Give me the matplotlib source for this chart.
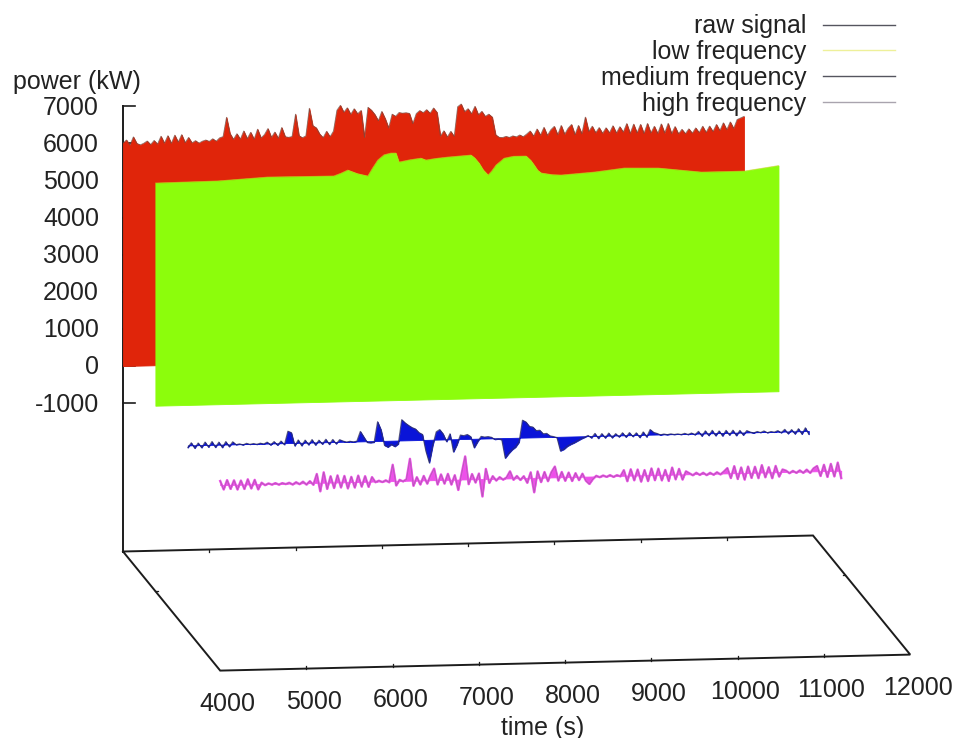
import matplotlib
matplotlib.use('Agg')
import matplotlib.pyplot as plt
import numpy as np

plt.rcParams['font.family'] = ['Liberation Sans', 'DejaVu Sans']

# sampled every 40 s from t = 4000 s
SAMPLE_STEP = 40
raw_signal = [
    6010, 6090, 5950, 6170, 5990, 5950, 5990, 6050, 5950, 6060, 5960, 6170, 5980, 6180, 5970, 6190,
    6000, 6200, 5980, 6120, 5970, 6030, 5960, 6010, 6040, 6000, 6070, 6000, 6090, 6120, 6640, 6200,
    6040, 6190, 6040, 6260, 6050, 6220, 6030, 6300, 6060, 6150, 6310, 6070, 6210, 6040, 6330, 6080,
    6060, 6080, 6680, 6100, 6040, 6090, 6830, 6360, 6300, 6130, 6030, 6200, 6050, 6200, 6760, 6890,
    6700, 6820, 6640, 6790, 6650, 6740, 6010, 6820, 6740, 6620, 6450, 6700, 6500, 6250, 6620, 6560,
    6660, 6640, 6650, 6630, 6350, 6620, 6700, 6640, 6720, 6620, 6760, 6640, 6000, 6140, 5970, 6120,
    5980, 6780, 6850, 6640, 6720, 6580, 6780, 6550, 6640, 6500, 6560, 6480, 6000, 5930, 5920, 5950,
    5920, 5960, 5930, 5980, 5930, 6000, 6080, 5940, 6130, 5960, 6170, 5950, 6100, 6190, 5960, 6210,
    5970, 6130, 6230, 5950, 6200, 5970, 6420, 6030, 6170, 5990, 6130, 5970, 6120, 5980, 6170, 5970,
    6140, 5990, 6220, 5950, 6200, 5960, 6190, 5940, 6210, 5950, 6130, 5930, 6190, 5940, 6200, 5920,
    6110, 5910, 6030, 5910, 6040, 5920, 6060, 5930, 6100, 5930, 6100, 5950, 6140, 5970, 6180, 5990,
    6200, 6020, 6260, 6300, 6340,
]
medium_frequency = [
    -60, 70, -80, 60, -70, 80, -60, 90, -70, 70, -80, 80, -60, 70, -10, 10,
    -20, 20, -10, 10, -15, 15, -10, 40, -40, 50, -50, 60, -40, 320, 280, -80,
    80, -80, 70, -60, 80, -70, 60, -50, 80, -60, 70, -50, 60, 20, -10, 10,
    -10, 10, 270, 120, -30, -40, -30, 520, 300, -120, -170, -100, -160, -90, 560, 470,
    400, 340, 300, 200, 150, -300, -620, -150, 210, 270, 150, -60, 150, -340, -150, 110,
    90, 120, 60, -240, -80, 60, 40, 50, 30, -30, -20, -40, -540, -420, -320, -250,
    -120, 470, 420, 300, 280, 180, 190, 90, 100, 30, 10, -20, -380, -340, -260, -210,
    -170, -120, -70, -30, 20, -50, 70, -70, 60, -60, 70, -60, 50, -40, 70, -50,
    70, -40, 60, -70, 80, -60, 140, 60, 30, -10, 10, -10, 10, -10, 5, -15,
    15, -20, 20, -30, 60, -70, 70, -60, 80, -70, 60, -80, 70, -60, 70, -80,
    60, -70, 50, 10, -20, 20, -10, 30, -20, 10, -10, 30, -30, 60, -60, 50,
    -70, 70, -80, 90, -90,
]
high_frequency = [
    110, -120, 130, -110, 120, -130, 110, -120, 140, -110, 120, -140, 40, -30, 15, -20,
    20, -25, 15, -15, 20, -30, 30, -25, 40, -40, 50, -50, 240, -230, 280, -170,
    170, -150, 190, -140, 170, -170, 140, -150, 170, -130, 150, -140, 120, -20, 20, -20,
    25, -30, 440, -120, 30, -15, 40, 590, -140, 90, -110, 120, -90, 130, 310, -120,
    150, -100, 160, -130, 120, -280, 170, 620, -130, 140, -90, 150, -470, 270, -110, 70,
    -50, 40, -30, 25, 190, -40, 60, -50, 50, -130, 150, -390, 170, -120, 150, -100,
    140, 290, -90, 140, -100, 120, -110, 100, -90, 80, -110, -200, -70, 15, -25, 20,
    -20, 25, -25, 20, -15, 150, -150, 170, -130, 160, -170, 140, -160, 180, -140, 170,
    -150, 130, -170, 190, -130, 150, -140, 80, 25, -30, 35, -25, 30, -35, 25, -30,
    35, -25, 50, 140, -130, 190, -160, 150, -180, 170, -140, 160, -150, 200, -130, 140,
    -160, 170, -120, 70, 35, -35, 25, -30, 35, -35, 50, -40, 80, 140, -130, 170,
    -160, 190, -150, 220, -200,
]
low_time = [4000, 4720, 5301, 6067, 6150, 6230, 6340, 6462, 6520, 6578, 6650, 6729, 6787, 6822, 6950,
            7078, 7136, 7250, 7391, 7658, 7700, 7750, 7800, 7856, 7900, 7949, 8042, 8150, 8297, 8350,
            8390, 8430, 8472, 8600, 8704, 9087, 9436, 9830, 10330, 10829, 11224]
low_frequency = [6003, 6020, 6094, 6081, 6150, 6232, 6130, 6059, 6280, 6483, 6620, 6663, 6660, 6415, 6470,
                 6507, 6453, 6490, 6520, 6560, 6480, 6340, 6150, 6010, 6120, 6275, 6453, 6500, 6498, 6380,
                 6250, 6110, 6032, 5980, 5965, 6024, 6114, 6092, 5957, 5957, 6083]

legend_labels = ['raw signal', 'low frequency', 'medium frequency', 'high frequency']
legend_colors = ['#55555f', '#eef09a', '#55555f', '#a9a4ae']
power_ticks = [7000, 6000, 5000, 4000, 3000, 2000, 1000, 0, -1000]
time_ticks = [4000, 5000, 6000, 7000, 8000, 9000, 10000, 11000, 12000]


def project(time, depth, power):
    # gnuplot style view: back wall corner is (123, 366) for t=4000, power=0
    time = np.asarray(time, dtype=float)
    power = np.asarray(power, dtype=float)
    x = 123 + (time - 4000) * 0.08625 + depth * 32.4
    y = 366 - (time - 4000) * 0.002 + depth * 39.7 - power * 0.0371
    return x, y


def fence(ax, time, values, depth, fill, line, lw=0.5, alpha=0.75):
    x, y = project(time, depth, values)
    _, base = project(time, depth, np.zeros(len(x)))
    z = 3 + depth
    ax.fill_between(x, base, y, color=fill, linewidth=0.6, zorder=z)
    ax.plot(x, y, color=line, lw=lw, alpha=alpha, zorder=z + 0.5)


def sample_times(values):
    return 4000 + SAMPLE_STEP * np.arange(len(values))


fig = plt.figure(figsize=(9.55, 7.38), dpi=100)
ax = fig.add_axes([0, 0, 1, 1])
ax.set_xlim(0, 955)
ax.set_ylim(738, 0)
ax.axis('off')

axis_color = '#1c1c1c'
text_color = '#222222'
ZMIN = -5000
ZMAX = 7000
DEPTH_MAX = 3

# vertical axis and its ticks, the red fence hides most of them
ax.plot(*zip(project(4000, 0, ZMIN), project(4000, 0, ZMAX)), color=axis_color, lw=1.4, zorder=2)
for p in power_ticks:
    x0, y0 = project(4000, 0, p)
    ax.plot([x0, x0 + 12], [y0, y0], color=axis_color, lw=1.2, zorder=2)
    ax.text(99, y0 + 1.5, str(p), ha='right', va='center', fontsize=18, color=text_color)

# base frame
corners = [(4000, 0), (12000, 0), (12000, DEPTH_MAX), (4000, DEPTH_MAX), (4000, 0)]
frame_x, frame_y = zip(*[project(t, d, ZMIN) for t, d in corners])
ax.plot(frame_x, frame_y, color=axis_color, lw=1.4, solid_joinstyle='miter', zorder=2)

for t in time_ticks:
    xb, yb = project(t, 0, ZMIN)
    xf, yf = project(t, DEPTH_MAX, ZMIN)
    if t not in (4000, 12000):
        ax.plot([xb, xb], [yb, yb + 2.5], color=axis_color, lw=0.9, zorder=2)
        ax.plot([xf, xf], [yf, yf - 2.5], color=axis_color, lw=0.9, zorder=2)
    ax.text(xf + 7.5, yf + 33.5, str(t), ha='center', va='center', fontsize=18, color=text_color)

# small ticks on the two side edges
for t, step in [(4000, 2.5), (12000, -2.5)]:
    xd, yd = project(t, 1, ZMIN)
    ax.plot([xd, xd + step], [yd, yd], color=axis_color, lw=0.9, zorder=2)

# the four fences, back to front
fence(ax, sample_times(raw_signal), raw_signal, 0, '#e0250a', '#6e4a40', 0.6)
fence(ax, low_time, low_frequency, 1, '#8cfd0c', '#c8d020', 0.5)
fence(ax, sample_times(medium_frequency), medium_frequency, 2, '#0a14d8', '#30305a', 0.8)
x_high, y_high = project(sample_times(high_frequency), 3, high_frequency)
ax.plot(x_high, y_high, color='#ee50ea', lw=1.7, zorder=6)
fence(ax, sample_times(high_frequency), high_frequency, 3, '#ee50ea', '#7a6680', 0.6, 0.5)

# legend
for row, (label, color) in enumerate(zip(legend_labels, legend_colors)):
    y = 25 + row * 25.7
    ax.text(806, y + 1.5, label, ha='right', va='center', fontsize=18, color=text_color)
    ax.plot([823, 895], [y - 0.5, y - 0.5], color=color, lw=1.0)

ax.text(77, 81.5, 'power (kW)', ha='center', va='center', fontsize=18, color=text_color)
ax.text(543, 727.5, 'time (s)', ha='center', va='center', fontsize=18, color=text_color)

fig.savefig('out.png', dpi=100)
